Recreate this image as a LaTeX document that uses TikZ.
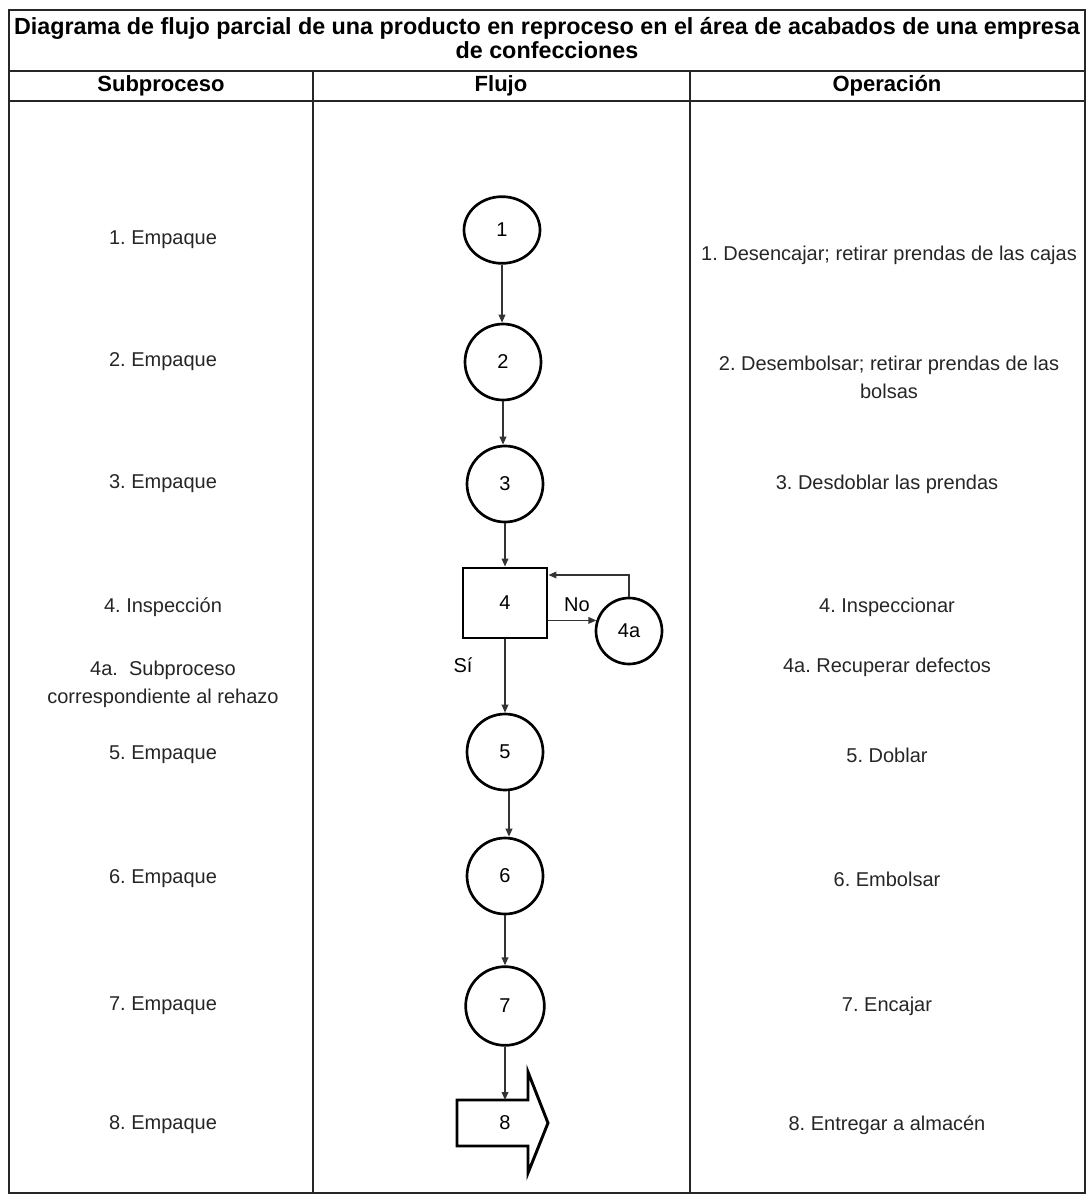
\documentclass[tikz,border=0pt]{standalone}
\usepackage{fontspec}
\setmainfont{Liberation Sans}
\usetikzlibrary{arrows.meta,shapes.geometric}
\frenchspacing
\begin{document}
\begin{tikzpicture}[x=0.75pt,y=-0.75pt,
  frameline/.style={line width=1.5pt, draw=black!85},
  txt/.style={font=\fontsize{15}{21}\selectfont, align=center, inner sep=0pt, text=black!85},
  hdr/.style={font=\fontsize{16.5}{19}\selectfont\bfseries, align=center, inner sep=0pt},
  ttl/.style={font=\fontsize{17.5}{18}\selectfont\bfseries, align=center, inner sep=0pt},
  proc/.style={circle, draw, line width=2pt, minimum size=57pt, inner sep=0pt, font=\fontsize{15}{18}\selectfont},
  insp/.style={rectangle, draw, line width=2.2pt, minimum width=63pt, minimum height=52.5pt, inner sep=0pt, font=\fontsize{15}{18}\selectfont},
  arr/.style={line width=1.1pt, draw=black!80, -{Triangle[length=6pt,width=5pt]}},
  lbl/.style={font=\fontsize{15}{18}\selectfont, inner sep=0pt}
]
\useasboundingbox[fill=white] (0,0) rectangle (1088,1196);

% table frame
\draw[frameline] (9,10) rectangle (1085,1193);
\draw[frameline] (9,71) -- (1085,71);
\draw[frameline] (9,101) -- (1085,101);
\draw[frameline] (313,71) -- (313,1193);
\draw[frameline] (690,71) -- (690,1193);

% headings
\node[ttl] (title) at (547,38) {Diagrama de flujo parcial de una producto en reproceso en el área de acabados de una empresa\\de confecciones};
\node[hdr] (hsub) at (161,86) {Subproceso};
\node[hdr] (hflu) at (501,86) {Flujo};
\node[hdr] (hope) at (887,86) {Operación};

% subprocess column
\node[txt] (s1) at (163,240) {1. Empaque};
\node[txt] (s2) at (163,362) {2. Empaque};
\node[txt] (s3) at (163,484) {3. Empaque};
\node[txt] (s4) at (163,607) {4. Inspección};
\node[txt] (s4a) at (163,684) {4a.\ \ Subproceso\\correspondiente al rehazo};
\node[txt] (s5) at (163,755) {5. Empaque};
\node[txt] (s6) at (163,879) {6. Empaque};
\node[txt] (s7) at (163,1006) {7. Empaque};
\node[txt] (s8) at (163,1125) {8. Empaque};

% operation column
\node[txt] (o1) at (889,255) {1. Desencajar; retirar prendas de las cajas};
\node[txt] (o2) at (889,377) {2. Desembolsar; retirar prendas de las\\bolsas};
\node[txt] (o3) at (887,484) {3. Desdoblar las prendas};
\node[txt] (o4) at (887,607) {4. Inspeccionar};
\node[txt] (o4a) at (887,667) {4a. Recuperar defectos};
\node[txt] (o5) at (887,755) {5. Doblar};
\node[txt] (o6) at (887,879) {6. Embolsar};
\node[txt] (o7) at (887,1006) {7. Encajar};
\node[txt] (o8) at (887,1125) {8. Entregar a almacén};

% flow
\node[proc, ellipse, minimum width=57pt, minimum height=50pt] (c1) at (502,230) {1};
\node[proc] (c2) at (503,362) {2};
\node[proc] (c3) at (505,484) {3};
\node[insp] (b4) at (505,603) {4};
\node[proc, minimum size=49.5pt] (c4a) at (629,631) {4a};
\node[proc] (c5) at (505,752) {5};
\node[proc] (c6) at (505,876) {6};
\node[proc, minimum size=59pt] (c7) at (505,1006) {7};

\draw[line width=2.2pt] (457,1100) -- (528,1100) -- (528,1072) -- (548,1123) -- (528,1173) -- (528,1146) -- (457,1146) -- cycle;
\node[lbl] (n8) at (505,1123) {8};
\coordinate (t8) at (503,1100);

\draw[arr] (c1.south) -- (c1.south |- c2.north);
\draw[arr] (c2.south) -- (c2.south |- c3.north);
\draw[arr] (c3.south) -- (c3.south |- b4.north);
\draw[arr] (b4.south) -- (b4.south |- c5.north);
\draw[arr] (c5.south -| 509,0) -- (c6.north -| 509,0);
\draw[arr] (c6.south) -- (c6.south |- c7.north);
\draw[arr] (c7.south) -- (c7.south |- t8);
\draw[arr] (b4.east |- c4a.162) -- (c4a.162);
\draw[arr] (c4a.north) |- (b4.east |- 0,575);

\node[lbl] (no) at (577,605) {No};
\node[lbl] (si) at (463,665) {Sí};
\end{tikzpicture}
\end{document}
